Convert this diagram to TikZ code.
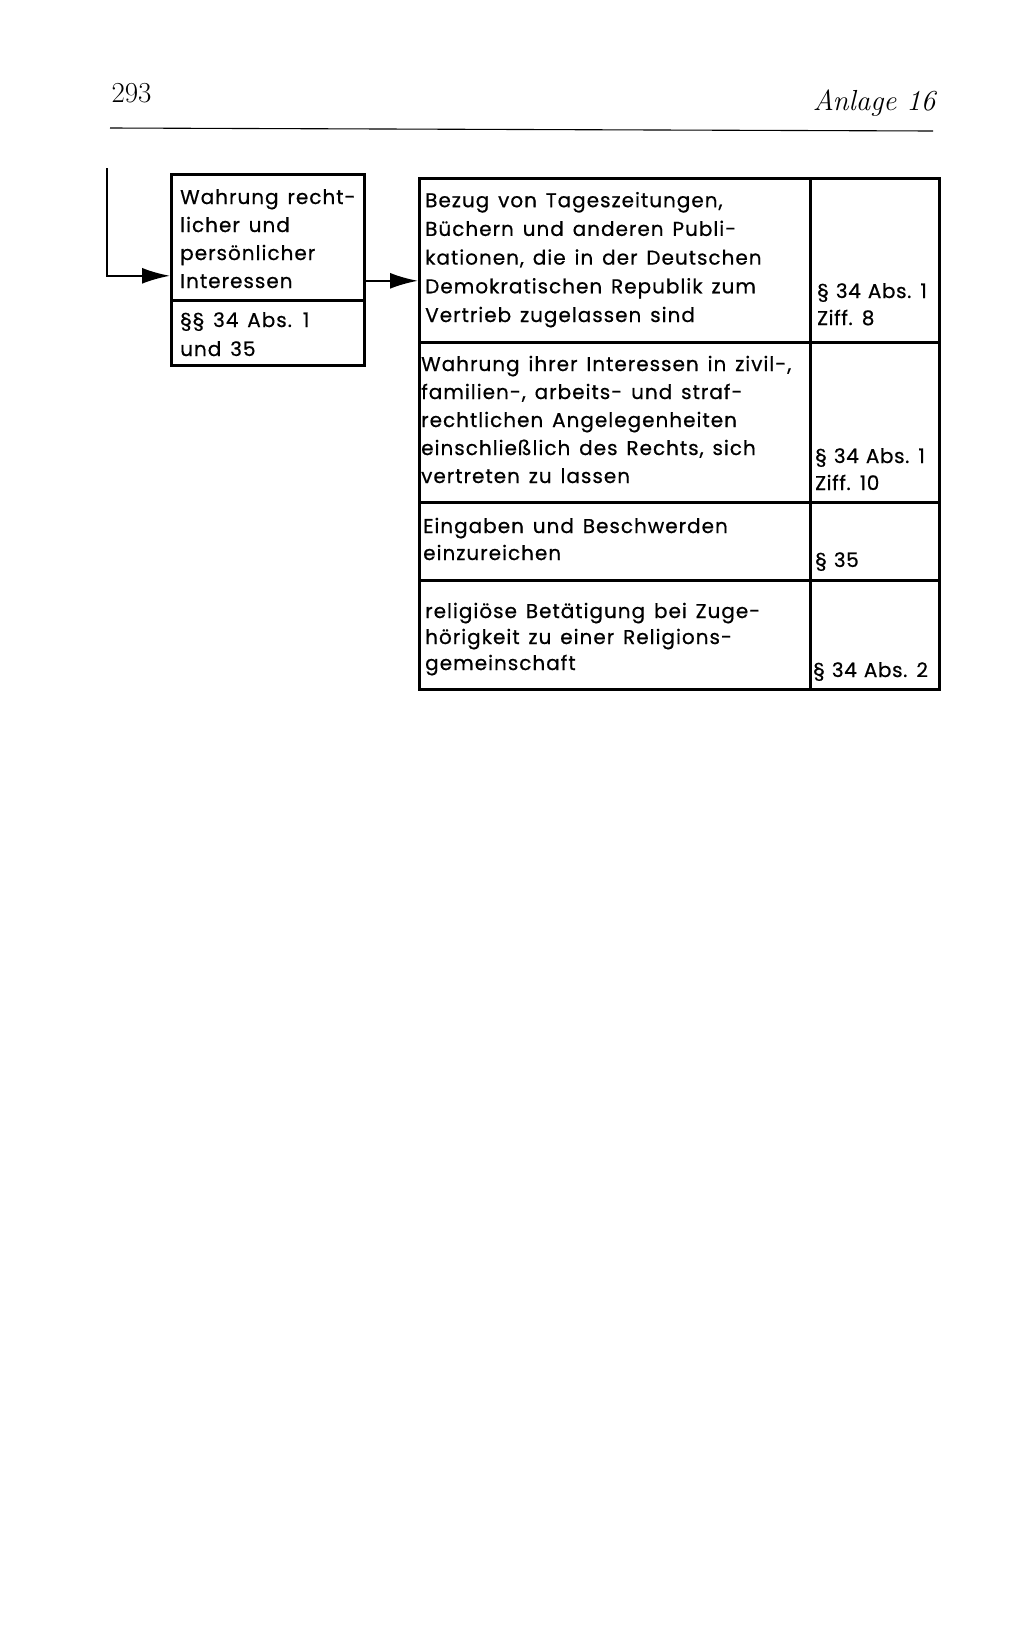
\documentclass[tikz,border=0pt]{standalone}
\usepackage{fontspec}
\usetikzlibrary{arrows.meta}
\newfontfamily\boxfont[LetterSpace=5,WordSpace=1.4,FakeBold=0.6]{Poppins}
\newfontfamily\reffont[LetterSpace=3,WordSpace=1.2,FakeBold=0.6]{Poppins}

\begin{document}
\begin{tikzpicture}[x=1pt, y=-1pt]
	 \tikzset{
	 	cell/.style={draw, line width=2.8pt, inner sep=0pt, anchor=north west},
	 	txt/.style={font=\boxfont\fontsize{20}{28}\selectfont, align=left, inner sep=0pt, anchor=base west},
	 	reftxt/.style={txt, font=\reffont\fontsize{20}{27}\selectfont},
	 	arr/.style={line width=2.2pt, -{Latex[length=28pt, width=16pt]}}
	 }
	 \useasboundingbox (0, 0) rectangle (1024, 1642);
 
	 % page head
	 \node[anchor=base west, font=\fontsize{29}{29}\selectfont] (page) at (108, 102) {293};
	 \node[anchor=base east, font=\fontsize{29}{29}\selectfont\itshape] (title) at (939, 110) {Anlage 16};
	 \draw[line width=1.1pt] (110, 128) -- (933, 131);
 
	 % left box
	 \node[cell, minimum width=193pt, minimum height=126pt] (top) at (170, 173) {};
	 \node[cell, minimum width=193pt, minimum height=65pt] (bottom) at (170, 299) {};
	 \node[txt] (toptext) at ([shift={(10, 115)}]top.north west) {Wahrung recht-\\licher und\\persönlicher\\Interessen};
	 \node[txt, font=\boxfont\fontsize{20}{29}\selectfont] (bottomtext) at ([shift={(10, 57)}]bottom.north west) {§§ 34 Abs. 1\\und 35};
 
	 % table
	 \foreach \y/\h/\n in {177/164/1, 341/160/2, 501/78/3, 579/109/4} {
	 	\node[cell, minimum width=391pt, minimum height=\h pt] (row\n) at (418, \y) {};
	 	\node[cell, minimum width=129pt, minimum height=\h pt] (ref\n) at (809, \y) {};
	 }
	 \node[txt, font=\boxfont\fontsize{20}{28.7}\selectfont] (rowtext1) at ([shift={(7, 145)}]row1.north west) {Bezug von Tageszeitungen,\\Büchern und anderen Publi-\\kationen, die in der Deutschen\\Demokratischen Republik zum\\Vertrieb zugelassen sind};
	 \node[reftxt] (reftext1) at ([shift={(8, 148)}]ref1.north west) {§ 34 Abs. 1\\Ziff. 8};
	 \node[txt] (rowtext2) at ([shift={(3, 142)}]row2.north west) {Wahrung ihrer Interessen in zivil-,\\familien-, arbeits- und straf-\\rechtlichen Angelegenheiten\\einschließlich des Rechts, sich\\vertreten zu lassen};
	 \node[reftxt] (reftext2) at ([shift={(6, 149)}]ref2.north west) {§ 34 Abs. 1\\Ziff. 10};
	 \node[txt, font=\boxfont\fontsize{20}{27}\selectfont] (rowtext3) at ([shift={(5, 59)}]row3.north west) {Eingaben und Beschwerden\\einzureichen};
	 \node[reftxt] (reftext3) at ([shift={(6, 66)}]ref3.north west) {§ 35};
	 \node[txt, font=\boxfont\fontsize{20}{26}\selectfont] (rowtext4) at ([shift={(7, 91)}]row4.north west) {religiöse Betätigung bei Zuge-\\hörigkeit zu einer Religions-\\gemeinschaft};
	 \node[reftxt] (reftext4) at ([shift={(4, 98)}]ref4.north west) {§ 34 Abs. 2};
 
	 % arrows
	 \coordinate (feed) at (107, 168);
	 \draw[arr] (feed) |- ([yshift=26pt]top.south west);
	 \path ([yshift=21pt]top.south east) coordinate (out);
	 \draw[arr] (out) -- (out -| row1.west);
\end{tikzpicture}
\end{document}
